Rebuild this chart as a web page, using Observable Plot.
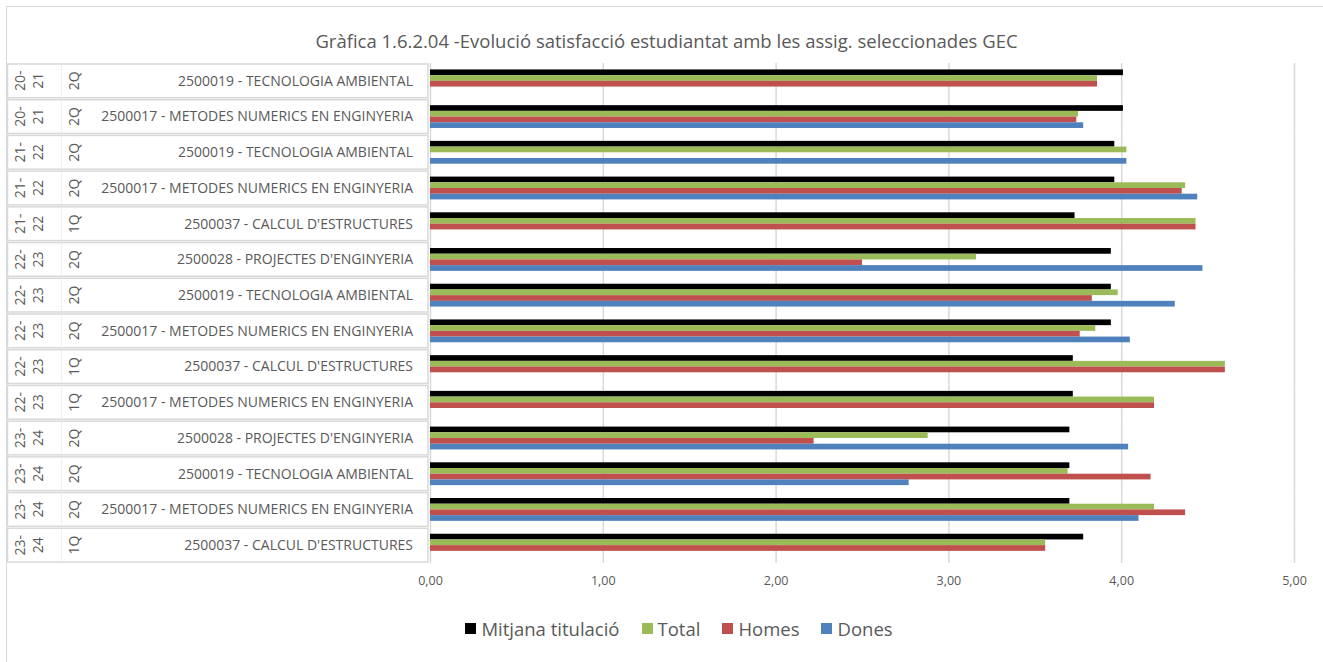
<!DOCTYPE html>
<html>
<head>
<meta charset="utf-8">
<script src="https://cdn.jsdelivr.net/npm/d3@7"></script>
<script src="https://cdn.jsdelivr.net/npm/@observablehq/plot@0.6"></script>
<style>
  body { margin: 0; background: #fff; overflow: hidden; }
  #wrap { position: relative; width: 1323px; height: 662px; overflow: hidden; font-family: "Open Sans", "Noto Sans", sans-serif; }
  #frame { position: absolute; left: 6px; top: 6px; width: 1400px; height: 800px; border: 1.5px solid #D9D9D9; box-sizing: border-box; }
  #title { position: absolute; top: 28px; left: 10px; width: 1313px; text-align: center; font-size: 18.5px; color: #595959; white-space: nowrap; }
  #chart { position: absolute; left: 0; top: 0; }
  #legend { position: absolute; top: 616px; left: 0; width: 1358px; display: flex; justify-content: center; align-items: center; font-size: 18.5px; color: #595959; white-space: nowrap; }
  #legend .item { display: flex; align-items: center; margin: 0 11px; }
  #legend .sw { width: 11px; height: 11px; margin-right: 5px; }
</style>
</head>
<body>
<div id="wrap">
  <div id="frame"></div>
  <div id="title">Gràfica 1.6.2.04 -Evolució satisfacció estudiantat amb les assig. seleccionades GEC</div>
  <div id="chart"></div>
  <div id="legend"></div>
</div>
<script>
// ---- data ----
const years = ["20-21","20-21","21-22","21-22","21-22","22-23","22-23","22-23","22-23","22-23","23-24","23-24","23-24","23-24"];
const sems = ["2Q","2Q","2Q","2Q","1Q","2Q","2Q","2Q","1Q","1Q","2Q","2Q","2Q","1Q"];
const subjects = [
  "2500019 - TECNOLOGIA AMBIENTAL",
  "2500017 - METODES NUMERICS EN ENGINYERIA",
  "2500019 - TECNOLOGIA AMBIENTAL",
  "2500017 - METODES NUMERICS EN ENGINYERIA",
  "2500037 - CALCUL D'ESTRUCTURES",
  "2500028 - PROJECTES D'ENGINYERIA",
  "2500019 - TECNOLOGIA AMBIENTAL",
  "2500017 - METODES NUMERICS EN ENGINYERIA",
  "2500037 - CALCUL D'ESTRUCTURES",
  "2500017 - METODES NUMERICS EN ENGINYERIA",
  "2500028 - PROJECTES D'ENGINYERIA",
  "2500019 - TECNOLOGIA AMBIENTAL",
  "2500017 - METODES NUMERICS EN ENGINYERIA",
  "2500037 - CALCUL D'ESTRUCTURES"
];
const mitjana = [4.01, 4.01, 3.96, 3.96, 3.73, 3.94, 3.94, 3.94, 3.72, 3.72, 3.70, 3.70, 3.70, 3.78];
const total   = [3.86, 3.75, 4.03, 4.37, 4.43, 3.16, 3.98, 3.85, 4.60, 4.19, 2.88, 3.69, 4.19, 3.56];
const homes   = [3.86, 3.74, null, 4.35, 4.43, 2.50, 3.83, 3.76, 4.60, 4.19, 2.22, 4.17, 4.37, 3.56];
const dones   = [null, 3.78, 4.03, 4.44, null, 4.47, 4.31, 4.05, null, null, 4.04, 2.77, 4.10, null];
const seriesNames = ["Mitjana titulació", "Total", "Homes", "Dones"];
const seriesColors = ["#000000", "#9BBB59", "#C0504D", "#4F81BD"];
const xTicks = [0, 1, 2, 3, 4, 5];

// ---- build table ----
const rowKeys = subjects.map((s, i) => String(i));
const seriesValues = [mitjana, total, homes, dones];
const data = [];
rowKeys.forEach((r, i) => {
  seriesNames.forEach((name, k) => {
    const v = seriesValues[k][i];
    if (v != null) data.push({row: r, series: name, value: v});
  });
});

const textColor = "#595959";
const font = '"Open Sans", "Noto Sans", sans-serif';

const plot = Plot.plot({
  width: 1323,
  height: 600,
  marginLeft: 430,
  marginRight: 29,
  marginTop: 63,
  marginBottom: 37,
  style: {fontFamily: font, background: "transparent"},
  x: {domain: [0, 5]},
  fy: {domain: rowKeys, padding: 0, round: false, axis: null, label: null},
  y: {domain: seriesNames, paddingInner: 0, paddingOuter: 1.13, round: false, axis: null, label: null},
  color: {domain: seriesNames, range: seriesColors},
  marks: [
    Plot.gridX(xTicks, {stroke: "#D9D9D9", strokeOpacity: 1, strokeWidth: 1.5}),
    Plot.barX(data, {fy: "row", y: "series", x: "value", fill: "series"}),
    Plot.axisX({ticks: xTicks, tickFormat: d => d.toFixed(2).replace(".", ","), tickSize: 0, tickPadding: 13, fontSize: 12.5, fill: textColor, label: null})
  ]
});
document.getElementById("chart").appendChild(plot);

// ---- multi-level category labels, positioned with the plot's fy scale ----
const fyS = plot.scale("fy");
const fyApply = fyS.apply ? (v => fyS.apply(v)) : d3.scaleBand(fyS.domain, fyS.range);
const bw = fyS.bandwidth != null ? fyS.bandwidth : d3.scaleBand(fyS.domain, fyS.range).bandwidth();
const svg = d3.select(plot);
const g = svg.append("g").attr("font-family", font).attr("fill", textColor);
rowKeys.forEach((r, i) => {
  const y0 = fyApply(r);
  const yc = y0 + bw / 2;
  g.append("rect").attr("x", 7.5).attr("y", y0 + 1).attr("width", 420.5).attr("height", bw - 2)
    .attr("fill", "white").attr("stroke", "#D9D9D9").attr("stroke-width", 1.5);
  g.append("line").attr("x1", 61.5).attr("x2", 61.5).attr("y1", y0 + 2).attr("y2", y0 + bw - 2)
    .attr("stroke", "#F0F0F0").attr("stroke-width", 1);
  const [a, b] = years[i].split("-");
  g.append("text").attr("transform", `translate(20,${yc}) rotate(-90)`).attr("text-anchor", "middle")
    .attr("dy", "0.35em").attr("font-size", 14).text(a + "-");
  g.append("text").attr("transform", `translate(38,${yc}) rotate(-90)`).attr("text-anchor", "middle")
    .attr("dy", "0.35em").attr("font-size", 14).text(b);
  g.append("text").attr("transform", `translate(74,${yc}) rotate(-90)`).attr("text-anchor", "middle")
    .attr("dy", "0.35em").attr("font-size", 14).text(sems[i]);
  g.append("text").attr("x", 413).attr("y", yc).attr("text-anchor", "end")
    .attr("dy", "0.35em").attr("font-size", 14).text(subjects[i]);
});

// ---- legend ----
const legend = document.getElementById("legend");
seriesNames.forEach((name, k) => {
  const it = document.createElement("div");
  it.className = "item";
  const sw = document.createElement("span");
  sw.className = "sw";
  sw.style.background = seriesColors[k];
  const tx = document.createElement("span");
  tx.textContent = name;
  it.appendChild(sw);
  it.appendChild(tx);
  legend.appendChild(it);
});
</script>
</body>
</html>
